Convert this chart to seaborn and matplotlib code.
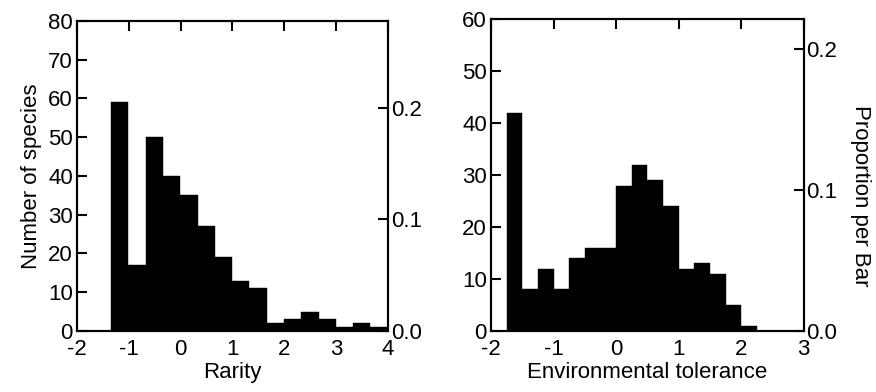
import numpy as np
import pandas as pd
import matplotlib
matplotlib.use("Agg")
import matplotlib.pyplot as plt
import seaborn as sns

# Histogram counts
rarity_counts = [59, 17, 50, 40, 35, 27, 19, 13, 11, 2, 3, 5, 3, 1, 2, 1]
rarity_start, rarity_width = -1.34, 1 / 3

tolerance_counts = [42, 8, 12, 8, 14, 16, 16, 28, 32, 29, 24, 12, 13, 11, 5, 1]
tolerance_start, tolerance_width = -1.75, 0.25

sns.set_style("ticks")
plt.rcParams['font.family'] = ['Liberation Sans', 'DejaVu Sans']
plt.rcParams.update({
    'axes.linewidth': 1.5,
    'axes.edgecolor': 'black',
    'axes.labelcolor': 'black',
    'text.color': 'black',
    'xtick.color': 'black',
    'ytick.color': 'black',
    'axes.unicode_minus': False,
})

FS = 16

fig = plt.figure(figsize=(8.76, 3.92), dpi=100)
ax_l = fig.add_axes([0.0879, 0.1556, 0.355, 0.791])
ax_r = fig.add_axes([0.5605, 0.1556, 0.357, 0.795])


def draw_hist(ax, counts, start, width, xlim, ylim, yticks, xlabel):
    edges = start + width * np.arange(len(counts) + 1)
    centers = (edges[:-1] + edges[1:]) / 2
    df = pd.DataFrame({'x': centers, 'n': counts})
    sns.histplot(data=df, x='x', weights='n', bins=edges.tolist(), ax=ax,
                 color='black', alpha=1, edgecolor='black', linewidth=0.3)
    ax.set_xlim(*xlim)
    ax.set_ylim(*ylim)
    ax.set_yticks(yticks)
    ax.set_xticks(range(xlim[0], xlim[1] + 1))
    ax.set_xlabel(xlabel, fontsize=FS, labelpad=1)
    ax.set_ylabel('')
    ax.tick_params(axis='x', bottom=False, top=True, labelbottom=True,
                   direction='in', length=7, width=1.5, labelsize=FS, pad=6)
    ax.tick_params(axis='y', direction='in', length=7, width=1.5,
                   labelsize=FS, pad=3)
    for s in ax.spines.values():
        s.set_visible(True)
        s.set_linewidth(1.5)

    # proportion axis on the right
    total = sum(counts)
    ax2 = ax.twinx()
    ax2.set_ylim(0, ylim[1] / total)
    ax2.set_yticks([0.0, 0.1, 0.2])
    ax2.set_yticklabels(['0.0', '0.1', '0.2'])
    ax2.tick_params(axis='y', direction='in', length=7, width=1.5,
                    labelsize=FS, pad=2)
    for s in ax2.spines.values():
        s.set_linewidth(1.5)
    return ax2


draw_hist(ax_l, rarity_counts, rarity_start, rarity_width,
          (-2, 4), (0, 80), range(0, 81, 10), 'Rarity')
ax_l.set_ylabel('Number of species', fontsize=FS, labelpad=4)

ax2_r = draw_hist(ax_r, tolerance_counts, tolerance_start, tolerance_width,
                  (-2, 3), (0, 60), range(0, 61, 10), 'Environmental tolerance')
ax2_r.set_ylabel('Proportion per Bar', fontsize=FS, rotation=270, va='center')
ax2_r.yaxis.set_label_coords(1.18, 0.435)

fig.savefig('out.png', dpi=100)
